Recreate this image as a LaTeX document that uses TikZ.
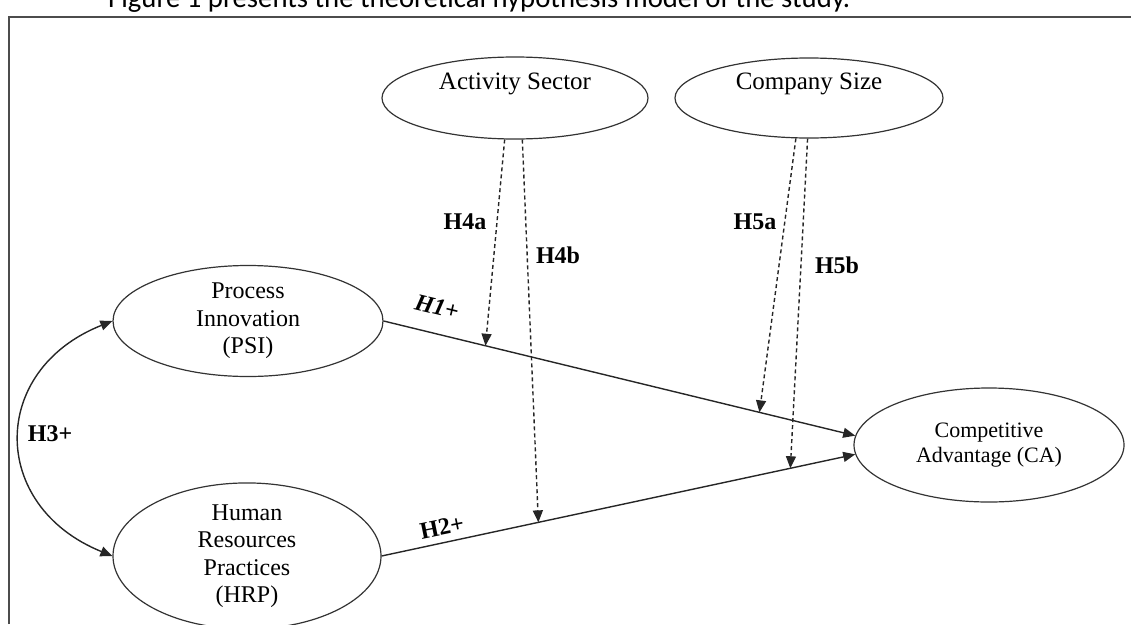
\documentclass[tikz,border=0pt]{standalone}
\usepackage{fontspec}
\setmainfont{Liberation Serif}
\newfontfamily\capfont{Carlito}
\usetikzlibrary{shapes.geometric,arrows.meta}

\tikzset{
  construct/.style={ellipse, draw=black!80, line width=1.2pt, inner sep=0pt,
    align=center, font=\fontsize{24}{27.5}\selectfont},
  effect/.style={draw=black!85, line width=1.4pt,
    -{Triangle[length=12pt,width=10pt]}},
  moderator/.style={effect, dash pattern=on 4pt off 3pt},
  hyp/.style={font=\bfseries\fontsize{24}{24}\selectfont, inner sep=1pt},
}

\begin{document}
\begin{tikzpicture}[x=1pt,y=-1pt]
\useasboundingbox (0,0) rectangle (1131,624);

% caption line and frame
\node[anchor=base west, inner sep=0pt, font=\capfont\fontsize{28.7}{30}\selectfont]
  (caption) at (108,7) {Figure 1 presents the theoretical hypothesis model of the study.};
\draw[black!70, line width=1.6pt] (9,624) -- (9,17) -- (1131,17);

% constructs
\node[construct, minimum width=266pt, minimum height=82pt,
  label={[yshift=14pt, font=\fontsize{25}{27.5}\selectfont]center:Activity Sector}]
  (act) at (515,98) {};
\node[construct, minimum width=268pt, minimum height=80pt,
  label={[yshift=14pt, font=\fontsize{25}{27.5}\selectfont]center:Company Size}]
  (size) at (809,98) {};
\node[construct, minimum width=270pt, minimum height=111pt] (psi) at (248,321)
  {Process\\Innovation\\(PSI)};
\node[construct, minimum width=268pt, minimum height=112pt] (hrp) at (247,556)
  {Human\\Resources\\Practices\\(HRP)};
\node[construct, minimum width=270pt, minimum height=114pt,
  font=\fontsize{22}{25}\selectfont] (ca) at (989,445)
  {Competitive\\Advantage (CA)};

% direct effects
\draw[effect] (psi.east) -- coordinate[pos=0.216] (m4a) coordinate[pos=0.797] (m5a) (ca.176);
\draw[effect] (hrp.east) -- coordinate[pos=0.331] (m4b) coordinate[pos=0.863] (m5b) (ca.184);
\draw[effect, {Triangle[length=12pt,width=10pt]}-{Triangle[length=12pt,width=10pt]}]
  (psi.west) .. controls (-11,370) and (-11,506) .. (hrp.west);

% moderating effects
\draw[moderator] (act.256) -- (m4a);
\draw[moderator] (act.280) -- (m4b);
\draw[moderator] (size.252) -- (m5a);
\draw[moderator] (size.268) -- (m5b);

% hypothesis labels
\node[hyp, font=\bfseries\itshape\fontsize{24}{24}\selectfont, rotate=-13.6] (h1) at (437,307) {H1+};
\node[hyp, rotate=11.6] (h2) at (442,527) {H2+};
\node[hyp] (h3) at (50,434) {H3+};
\node[hyp] (h4a) at (465,222) {H4a};
\node[hyp] (h4b) at (558,255) {H4b};
\node[hyp] (h5a) at (755,222) {H5a};
\node[hyp] (h5b) at (837,265) {H5b};
\end{tikzpicture}
\end{document}
